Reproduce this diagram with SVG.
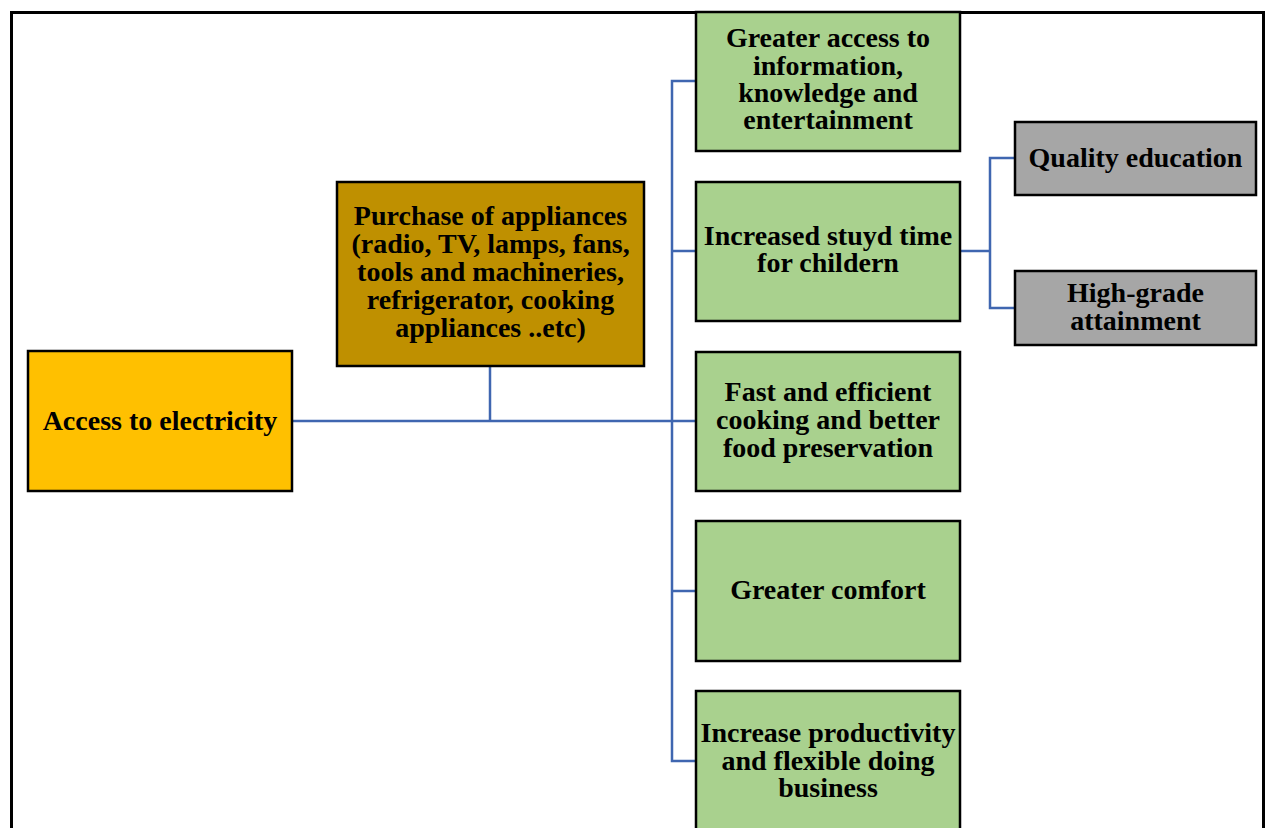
<svg xmlns="http://www.w3.org/2000/svg" width="1266" height="828" viewBox="0 0 1266 828">
  <style>
    .box { stroke: #000; stroke-width: 2.5; }
    .orange { fill: #FFC000; }
    .brown { fill: #BF9000; }
    .green { fill: #A9D18E; }
    .gray { fill: #A6A6A6; }
    .lbl { font-family: "Liberation Serif", "Times New Roman", serif; font-weight: bold; font-size: 28px; fill: #000; text-anchor: middle; }
    .wire { fill: none; stroke: #3F66B0; stroke-width: 2.5; }
  </style>
  <rect x="0" y="0" width="1266" height="828" fill="#fff"/>
  <!-- outer frame -->
  <path d="M11.5 828 V12.5 H1263.5 V828" fill="none" stroke="#000" stroke-width="3"/>

  <g id="connectors">
    <path class="wire" d="M292 421 H696"/>
    <path class="wire" d="M490 366 V421"/>
    <path class="wire" d="M696 81 H672 V761 H696"/>
    <path class="wire" d="M672 251 H696"/>
    <path class="wire" d="M672 591 H696"/>
    <path class="wire" d="M960 251 H990"/>
    <path class="wire" d="M1015 158 H990 V308 H1015"/>
  </g>

  <g id="access">
    <rect class="box orange" x="28" y="351" width="264" height="140"/>
    <text class="lbl" x="160" y="430">Access to electricity</text>
  </g>

  <g id="appliances">
    <rect class="box brown" x="337" y="182" width="307" height="184"/>
    <text class="lbl" x="490.5" y="225">Purchase of appliances</text>
    <text class="lbl" x="490.5" y="253">(radio, TV, lamps, fans,</text>
    <text class="lbl" x="490.5" y="281">tools and machineries,</text>
    <text class="lbl" x="490.5" y="309">refrigerator, cooking</text>
    <text class="lbl" x="490.5" y="337">appliances ..etc)</text>
  </g>

  <g id="information">
    <rect class="box green" x="696" y="12" width="264" height="139"/>
    <text class="lbl" x="828" y="47">Greater access to</text>
    <text class="lbl" x="828" y="74.5">information,</text>
    <text class="lbl" x="828" y="102">knowledge and</text>
    <text class="lbl" x="828" y="129">entertainment</text>
  </g>

  <g id="study-time">
    <rect class="box green" x="696" y="182" width="264" height="139"/>
    <text class="lbl" x="828" y="244.5">Increased stuyd time</text>
    <text class="lbl" x="828" y="272">for childern</text>
  </g>

  <g id="cooking">
    <rect class="box green" x="696" y="352" width="264" height="139"/>
    <text class="lbl" x="828" y="401">Fast and efficient</text>
    <text class="lbl" x="828" y="429">cooking and better</text>
    <text class="lbl" x="828" y="456.5">food preservation</text>
  </g>

  <g id="comfort">
    <rect class="box green" x="696" y="521" width="264" height="140"/>
    <text class="lbl" x="828" y="598.5">Greater comfort</text>
  </g>

  <g id="productivity">
    <rect class="box green" x="696" y="691" width="264" height="150"/>
    <text class="lbl" x="828" y="741.5">Increase productivity</text>
    <text class="lbl" x="828" y="769.5">and flexible doing</text>
    <text class="lbl" x="828" y="796.5">business</text>
  </g>

  <g id="quality-education">
    <rect class="box gray" x="1015" y="122" width="241" height="73"/>
    <text class="lbl" x="1135.5" y="166.5">Quality education</text>
  </g>

  <g id="high-grade">
    <rect class="box gray" x="1015" y="271" width="241" height="74"/>
    <text class="lbl" x="1135.5" y="301.5">High-grade</text>
    <text class="lbl" x="1135.5" y="329.5">attainment</text>
  </g>
</svg>
